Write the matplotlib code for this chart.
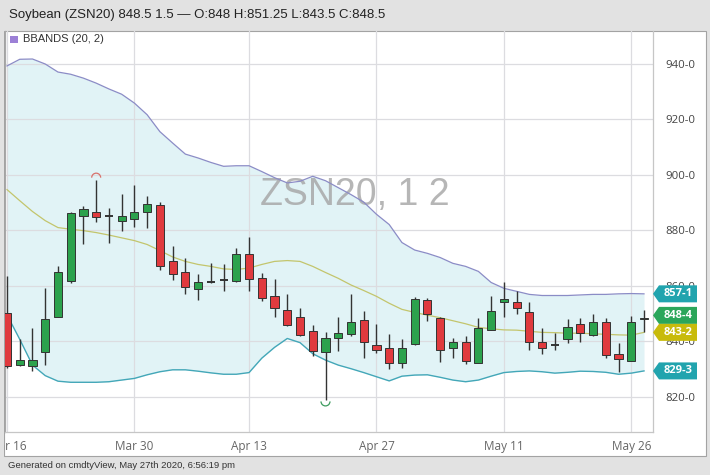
import matplotlib
matplotlib.use("Agg")
import matplotlib.pyplot as plt
from matplotlib.patches import Rectangle, Polygon, Arc
from matplotlib.transforms import blended_transform_factory
import numpy as np

# ---------------- data ----------------
tick_idx = [0, 10, 19, 29, 39, 49]
tick_labels = ["Mar 16", "Mar 30", "Apr 13", "Apr 27", "May 11", "May 26"]

opens = [850.3, 831.4, 830.9, 836.0, 848.9, 861.7, 885.3, 886.5, 885.1, 883.3,
         884.1, 886.7, 889.3, 868.9, 865.0, 858.7, 861.3, 862.1, 861.7, 871.3,
         862.7, 856.3, 851.3, 848.9, 843.7, 836.0, 841.1, 842.5, 847.7, 838.7,
         837.4, 832.0, 838.9, 854.7, 848.5, 837.6, 839.8, 832.3, 844.1, 854.2,
         854.3, 850.5, 839.8, 838.6, 840.7, 846.4, 842.3, 846.9, 835.3, 832.9,
         848.0]
highs = [863.5, 840.7, 844.9, 859.3, 867.1, 886.5, 888.7, 898.0, 888.1, 893.2,
         896.5, 892.5, 890.3, 874.3, 870.1, 864.1, 868.1, 867.7, 873.7, 877.7,
         864.7, 862.6, 857.2, 851.9, 845.8, 843.3, 848.9, 856.9, 850.9, 846.4,
         842.5, 840.7, 856.1, 855.7, 848.8, 841.0, 841.9, 848.5, 856.5, 861.4,
         858.1, 854.2, 844.6, 843.1, 847.9, 848.5, 849.7, 848.5, 839.5, 849.1,
         851.25]
lows = [830.5, 830.9, 829.3, 831.4, 848.9, 861.1, 874.9, 882.9, 875.3, 879.9,
        881.3, 880.9, 865.6, 862.1, 857.0, 854.7, 860.9, 858.1, 861.5, 858.3,
        854.5, 848.9, 845.5, 841.9, 834.7, 818.9, 836.5, 841.9, 834.1, 835.7,
        829.9, 830.5, 838.6, 847.3, 832.6, 834.1, 831.7, 832.0, 844.0, 848.9,
        850.0, 836.8, 835.3, 836.8, 839.3, 839.8, 842.0, 834.1, 829.0, 832.8,
        843.5]
closes = [830.9, 833.3, 833.1, 848.2, 865.0, 886.3, 887.7, 884.9, 885.1, 885.3,
          886.5, 889.6, 867.3, 864.4, 859.7, 861.5, 861.3, 862.1, 871.3, 862.3,
          855.5, 852.0, 845.9, 842.4, 836.5, 841.0, 842.8, 847.1, 839.8, 836.8,
          832.2, 837.7, 855.4, 849.7, 836.8, 839.8, 832.9, 844.6, 850.9, 855.4,
          852.1, 839.9, 837.4, 838.6, 845.3, 842.8, 846.9, 835.0, 833.5, 847.0,
          848.5]

bb_upper = [939.3, 941.7, 941.8, 940.0, 937.1, 936.3, 934.9, 933.1, 931.0, 929.1,
            925.9, 921.7, 915.6, 911.5, 907.5, 906.1, 904.5, 903.1, 903.3, 903.3,
            901.2, 899.0, 897.1, 897.7, 899.5, 897.9, 895.4, 892.9, 890.2, 885.8,
            882.1, 875.6, 872.9, 871.7, 870.2, 868.1, 867.0, 865.2, 861.2, 859.1,
            858.0, 856.9, 856.5, 856.5, 856.5, 856.7, 856.9, 856.9, 857.1, 857.2,
            857.1]
bb_mid = [894.7, 890.7, 886.8, 883.5, 881.0, 880.4, 879.9, 879.2, 878.3, 877.3,
          876.3, 874.9, 872.7, 870.4, 868.8, 867.7, 867.0, 866.1, 865.9, 866.4,
          867.7, 868.8, 869.1, 868.8, 867.0, 864.8, 862.7, 860.3, 858.3, 856.2,
          853.7, 851.5, 850.4, 849.4, 848.5, 847.4, 846.3, 845.0, 844.5, 844.1,
          844.0, 843.6, 843.2, 843.1, 842.9, 842.9, 842.7, 842.5, 842.3, 842.2,
          843.2]
bb_lower = [849.5, 840.7, 831.4, 827.6, 825.6, 825.2, 825.2, 825.2, 825.4, 826.0,
            826.6, 827.9, 829.0, 829.7, 829.7, 829.2, 828.6, 828.1, 828.1, 828.7,
            833.9, 837.8, 841.0, 839.5, 835.5, 833.2, 831.4, 830.1, 828.7, 827.2,
            825.7, 827.4, 827.8, 827.9, 827.0, 826.0, 825.4, 826.0, 827.4, 828.7,
            829.1, 829.3, 829.0, 828.5, 828.8, 829.2, 829.1, 828.8, 828.1, 828.5,
            829.3]

yticks = [820, 840, 860, 880, 900, 920, 940]
ytick_labels = ["820-0", "840-0", "860-0", "880-0", "900-0", "920-0", "940-0"]

tag_values = [857.1, 848.5, 843.2, 829.3]
tag_texts = ["857-1", "848-4", "843-2", "829-3"]
tag_colors = ["#21a4ae", "#2ba65a", "#c8bb0c", "#21a4ae"]

title = "Soybean (ZSN20) 848.5 1.5 \u2014 O:848 H:851.25 L:843.5 C:848.5"
legend_label = "BBANDS (20, 2)"
watermark = "ZSN20, 1 2"
footer = "Generated on cmdtyView, May 27th 2020, 6:56:19 pm"

# ---------------- figure ----------------
W, H = 710, 475
fig = plt.figure(figsize=(W / 100, H / 100), dpi=100, facecolor="#e2e2e2")


def fx(px):
    return px / W


def fy(py):
    return 1 - py / H


# white chart panel
fig.add_artist(Rectangle((fx(4), fy(456)), fx(706) - fx(4), fy(31) - fy(456),
                         transform=fig.transFigure, facecolor="white",
                         edgecolor="#a3a3a3", lw=0.8, zorder=-5))

ax = fig.add_axes([fx(5), fy(432), fx(653) - fx(5), fy(31) - fy(432)])
ax.set_facecolor("none")

x = np.arange(len(opens))
px_per_bar = 12.74
ax.set_xlim((5 - 7) / px_per_bar, (653 - 7) / px_per_bar)
ppu = 2.7725
ax.set_ylim(940 - (432 - 64) / ppu, 940 + (64 - 31) / ppu)

# Bollinger bands
ax.fill_between(x, bb_lower, bb_upper, color="#e1f3f6", lw=0, zorder=1)
ax.plot(x, bb_upper, color="#8b8cc6", lw=0.9, zorder=2)
ax.plot(x, bb_mid, color="#c3c56c", lw=0.9, zorder=2)
ax.plot(x, bb_lower, color="#43a7b8", lw=1.0, zorder=2)

# watermark
ax.text(27.3, 892.7, watermark, fontsize=27, color="#a4a4a4", alpha=0.8,
        ha="center", va="center", family="Liberation Sans", zorder=1.2)

# candles
o = np.array(opens); c = np.array(closes); hi = np.array(highs); lo = np.array(lows)
ax.vlines(x, lo, hi, color="#333333", lw=1.0, zorder=3)
bw = 0.64
for i in range(len(x)):
    if abs(c[i] - o[i]) < 0.05:
        ax.hlines(o[i], x[i] - bw / 2, x[i] + bw / 2, color="#333333", lw=1.4, zorder=4)
    else:
        col = "#2ca24d" if c[i] > o[i] else "#e03a3e"
        ax.bar(x[i], abs(c[i] - o[i]), bottom=min(o[i], c[i]), width=bw,
               color=col, edgecolor="#333333", lw=0.7, zorder=4)

# extreme markers
imax = int(np.argmax(hi)); imin = int(np.argmin(lo))
aw, ah = 9 / px_per_bar, 9 / ppu
ax.add_patch(Arc((imax, hi[imax] + 1.0), aw, ah, theta1=0, theta2=180,
                 color="#d8716b", lw=0.9, zorder=5))
ax.add_patch(Arc((imin, lo[imin] - 0.6), aw, ah, theta1=180, theta2=360,
                 color="#3d9b5e", lw=0.9, zorder=5))

# grid / axes styling
ax.set_axisbelow("line")
ax.grid(True, color="#dcdce0", lw=0.9)
ax.set_xticks(tick_idx)
ax.set_xticklabels(tick_labels)
ax.set_yticks(yticks)
ax.set_yticklabels(ytick_labels)
ax.yaxis.tick_right()
ax.tick_params(axis="both", length=0)
ax.tick_params(axis="y", pad=9, labelsize=8.2, labelcolor="#444444")
ax.tick_params(axis="x", pad=6, labelsize=8.5, labelcolor="#666666")
for lab in ax.get_xticklabels() + ax.get_yticklabels():
    lab.set_family("Open Sans")
for s in ["left", "right", "bottom"]:
    ax.spines[s].set_color("#c6c6c6")
    ax.spines[s].set_linewidth(0.9)
ax.spines["left"].set_color("#a8a8a8")
ax.spines["top"].set_visible(False)

# price tags on the right
T = blended_transform_factory(fig.transFigure, ax.transData)
tag_h = 17 / ppu
order = np.argsort(tag_values)
pos = {}
prev = None
for k in order:
    v = tag_values[k]
    if prev is not None and v - prev < tag_h:
        v = prev + tag_h
    pos[k] = v
    prev = v
for k in range(len(tag_values)):
    v = pos[k]
    hh = tag_h / 2
    poly = Polygon([(fx(653), v), (fx(659), v + hh), (fx(697), v + hh),
                    (fx(697), v - hh), (fx(659), v - hh)], closed=True,
                   transform=T, facecolor=tag_colors[k], edgecolor="none",
                   clip_on=False, zorder=6)
    fig.add_artist(poly)
    fig.text(fx(678), v, tag_texts[k], transform=T, color="white", fontsize=8,
             fontweight="bold", ha="center", va="center", family="Open Sans", zorder=7)

# title, legend, footer
fig.text(fx(9), fy(15), title, fontsize=9.5, color="#222222", va="center",
         family="Liberation Sans")
fig.add_artist(Rectangle((fx(10), fy(43)), fx(8), 7 / H, transform=fig.transFigure,
                         facecolor="#9c80d6", edgecolor="none", zorder=6))
fig.text(fx(23), fy(39.5), legend_label, fontsize=8, color="#333333", va="center",
         family="Liberation Sans")
fig.text(fx(8), fy(465.5), footer, fontsize=6.8, color="#333333", va="center",
         family="Liberation Sans")

# cover left margin (clips first date label like the original)
fig.add_artist(Rectangle((0, fy(456)), fx(3.6), fy(31) - fy(456), transform=fig.transFigure,
                         facecolor="#e2e2e2", edgecolor="none", zorder=8))

fig.savefig("out.png", dpi=100, facecolor=fig.get_facecolor())
